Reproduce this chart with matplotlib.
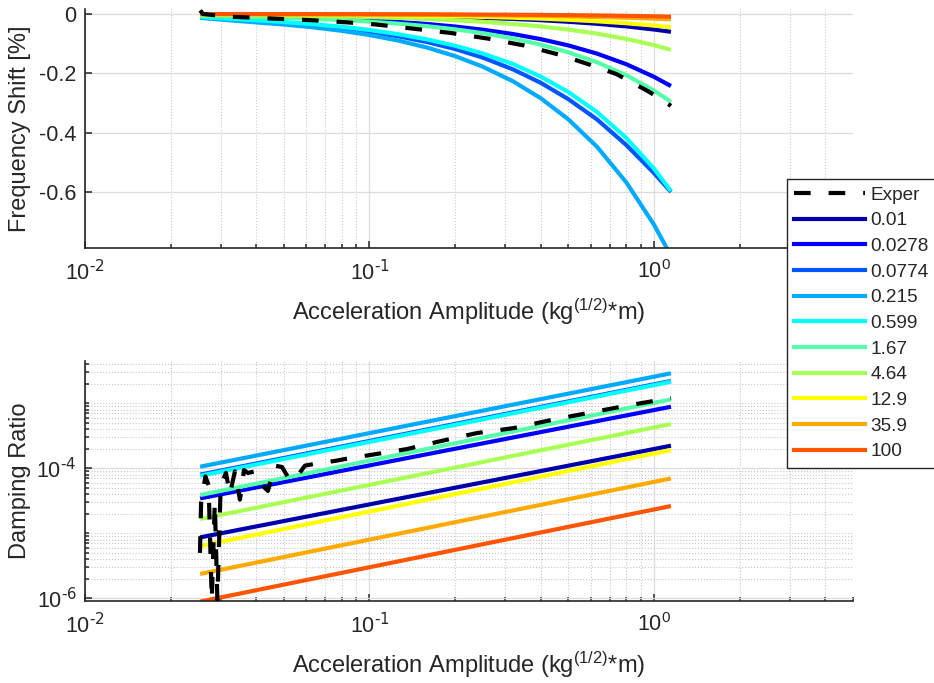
import numpy as np
import matplotlib
matplotlib.use('Agg')
import matplotlib.pyplot as plt
from matplotlib.ticker import FixedLocator, FixedFormatter, NullFormatter
from matplotlib.lines import Line2D

plt.rcParams['font.family'] = ['Liberation Sans', 'DejaVu Sans']
plt.rcParams['axes.unicode_minus'] = False
plt.rcParams['mathtext.default'] = 'regular'

############ data ############

labels = ['0.01', '0.0278', '0.0774', '0.215', '0.599',
          '1.67', '4.64', '12.9', '35.9', '100']

# jet(10)
colors = [(0, 0, 0.6667), (0, 0, 1), (0, 0.3333, 1), (0, 0.6667, 1), (0, 1, 1),
          (0.3333, 1, 0.6667), (0.6667, 1, 0.3333), (1, 1, 0), (1, 0.6667, 0),
          (1, 0.3333, 0)]

# frequency shift [%] of each model vs amplitude
amp_model = [0.0254, 0.032, 0.04, 0.05, 0.063, 0.08, 0.1, 0.126, 0.16, 0.2,
             0.25, 0.32, 0.4, 0.5, 0.63, 0.8, 1.0, 1.148]
shift_model = [
    [-0.0013, -0.0017, -0.0021, -0.0026, -0.0033, -0.0042, -0.0052, -0.0066, -0.0084,
     -0.0105, -0.0131, -0.0167, -0.0209, -0.0262, -0.033, -0.0418, -0.0523, -0.060],
    [-0.0045, -0.0064, -0.0083, -0.0105, -0.0133, -0.0169, -0.0212, -0.0267, -0.0339,
     -0.0423, -0.0529, -0.0677, -0.0847, -0.1059, -0.1334, -0.1694, -0.2117, -0.243],
    [-0.012, -0.018, -0.024, -0.030, -0.038, -0.048, -0.060, -0.075, -0.095,
     -0.118, -0.147, -0.187, -0.232, -0.287, -0.355, -0.442, -0.536, -0.600],
    [-0.013, -0.021, -0.0284, -0.0355, -0.0447, -0.0568, -0.071, -0.0895, -0.1136,
     -0.142, -0.1775, -0.2272, -0.284, -0.355, -0.447, -0.568, -0.71, -0.815],
    [-0.010, -0.016, -0.021, -0.027, -0.034, -0.043, -0.054, -0.068, -0.086,
     -0.107, -0.133, -0.169, -0.211, -0.263, -0.330, -0.418, -0.521, -0.597],
    [-0.0058, -0.0080, -0.0102, -0.0129, -0.0163, -0.0206, -0.0258, -0.0325, -0.0413,
     -0.0516, -0.0645, -0.0826, -0.1032, -0.129, -0.1625, -0.2064, -0.258, -0.296],
    [-0.0027, -0.0034, -0.0042, -0.0053, -0.0066, -0.0084, -0.0105, -0.0132, -0.0168,
     -0.021, -0.0263, -0.0336, -0.042, -0.0525, -0.0662, -0.084, -0.105, -0.121],
    [-0.001, -0.0012, -0.0016, -0.002, -0.0025, -0.0031, -0.0039, -0.0049, -0.0062,
     -0.0078, -0.0098, -0.0125, -0.0156, -0.0195, -0.0246, -0.0312, -0.039, -0.045],
    [-0.0004, -0.0005, -0.0006, -0.0008, -0.001, -0.0013, -0.0016, -0.002, -0.0025,
     -0.0031, -0.0039, -0.005, -0.0063, -0.0079, -0.0099, -0.0126, -0.0157, -0.018],
    [-0.0002, -0.0002, -0.0003, -0.0004, -0.0005, -0.0006, -0.0008, -0.001, -0.0012,
     -0.0016, -0.002, -0.0025, -0.0031, -0.0039, -0.0049, -0.0062, -0.0078, -0.009],
]

# measured frequency shift
amp_exp_top = [0.0254, 0.026, 0.032, 0.04, 0.05, 0.063, 0.08, 0.1045, 0.141,
               0.193, 0.261, 0.349, 0.468, 0.631, 0.74, 0.830, 0.96, 1.084, 1.148]
shift_exp = [0.012, 0.0, -0.009, -0.013, -0.017, -0.021, -0.027, -0.035, -0.049,
             -0.064, -0.083, -0.106, -0.138, -0.179, -0.203, -0.229, -0.262,
             -0.293, -0.310]

# damping ratio of each model at both ends of the amplitude range
amp_ends = [0.0254, 1.148]
damp_model = [
    [8.67e-6, 2.23e-4],
    [3.45e-5, 8.87e-4],
    [8.0e-5, 2.21e-3],
    [1.06e-4, 2.90e-3],
    [7.7e-5, 2.15e-3],
    [3.88e-5, 1.15e-3],
    [1.66e-5, 4.81e-4],
    [6.38e-6, 1.91e-4],
    [2.37e-6, 7.0e-5],
    [8.9e-7, 2.63e-5],
]

# measured damping ratio
amp_exp_bot = [0.02536, 0.0256, 0.0265, 0.0272, 0.0279, 0.0286, 0.0292, 0.0300,
               0.0313, 0.0323, 0.03366, 0.03505, 0.03622, 0.03741, 0.03958,
               0.04188, 0.04396, 0.04653, 0.04925, 0.05256, 0.05562, 0.05934,
               0.06592, 0.07563, 0.08268, 0.1004, 0.1354, 0.1784, 0.2387,
               0.3221, 0.4345, 0.5861, 0.7909, 1.148]
damp_exp = [5.0e-6, 3.0e-5, 7.5e-5, 5.5e-5, 9.4e-7, 3.0e-5, 9.4e-7, 5.5e-5,
            8.5e-5, 4.0e-5, 9.0e-5, 3.3e-5, 9.4e-5, 8.5e-5, 9.0e-5,
            5.5e-5, 4.5e-5, 1.1e-4, 1.05e-4, 6.5e-5, 7.5e-5, 1.1e-4,
            1.2e-4, 1.3e-4, 1.4e-4, 1.6e-4, 1.98e-4, 2.63e-4, 3.49e-4,
            4.17e-4, 5.53e-4, 7.1e-4, 9.1e-4, 1.21e-3]

x_ticks = [0.01, 0.1, 1]
x_ticklabels = ['10$^{\\text{-2}}$', '10$^{\\text{-1}}$', '10$^{0}$']

############ styling ############

txt = '#262626'
lw = 3.0
dash = (4.0, 4.3)
fs_tick = 15.5
fs_lab = 17
xlab = 'Acceleration Amplitude (kg$^{(1/2)}$*m)'


def style_axes(ax):
    for s in ['top', 'right']:
        ax.spines[s].set_visible(False)
    for s in ['left', 'bottom']:
        ax.spines[s].set_color(txt)
        ax.spines[s].set_linewidth(1.2)
    ax.set_xscale('log')
    ax.set_xlim(0.01, 5)
    ax.xaxis.set_major_locator(FixedLocator(x_ticks))
    ax.xaxis.set_major_formatter(FixedFormatter(x_ticklabels))
    minors = [m * d for d in [0.01, 0.1] for m in range(2, 10)] + [2, 3, 4, 5]
    ax.xaxis.set_minor_locator(FixedLocator(minors))
    ax.xaxis.set_minor_formatter(NullFormatter())
    ax.tick_params(which='both', direction='in', colors=txt,
                   labelsize=fs_tick, width=1.1)
    ax.tick_params(which='major', length=5)
    ax.tick_params(which='minor', length=3)
    ax.tick_params(axis='x', pad=9)
    ax.tick_params(axis='y', pad=6)
    ax.grid(True, which='major', color='#dcdcdc', lw=0.9, ls='-')
    ax.grid(True, which='minor', axis='x', color='#c8c8c8', lw=0.8, ls=':')
    ax.set_axisbelow(True)
    ax.set_xlabel(xlab, fontsize=fs_lab, color=txt, labelpad=8)


fig = plt.figure(figsize=(9.34, 6.83), dpi=100)

#### frequency shift ####
ax1 = fig.add_axes([0.091, 0.6369, 0.822, 0.350])
style_axes(ax1)
ax1.set_ylim(-0.789, 0.017)
ax1.yaxis.set_major_locator(FixedLocator([-0.6, -0.4, -0.2, 0]))
ax1.yaxis.set_major_formatter(FixedFormatter(['-0.6', '-0.4', '-0.2', '0']))
for i in range(len(labels)):
    ax1.plot(amp_model, shift_model[i], color=colors[i], lw=lw,
             solid_capstyle='butt')
ax1.plot(amp_exp_top, shift_exp, color='k', lw=lw, dashes=dash, zorder=5)
ax1.set_ylabel('Frequency Shift [%]', fontsize=fs_lab, color=txt, labelpad=6)

#### damping ratio ####
ax2 = fig.add_axes([0.091, 0.1205, 0.822, 0.3509])
style_axes(ax2)
ax2.set_yscale('log')
ax2.set_ylim(9.19e-7, 4.48e-3)
ax2.yaxis.set_major_locator(FixedLocator([1e-6, 1e-4]))
ax2.yaxis.set_major_formatter(FixedFormatter(['10$^{\\text{-6}}$',
                                              '10$^{\\text{-4}}$']))
yminor = [m * d for d in [1e-6, 1e-5, 1e-4, 1e-3] for m in range(1, 10)]
yminor = [v for v in yminor if v not in (1e-6, 1e-4)]
ax2.yaxis.set_minor_locator(FixedLocator(yminor))
ax2.yaxis.set_minor_formatter(NullFormatter())
ax2.grid(True, which='minor', axis='y', color='#c8c8c8', lw=0.8, ls=':')
for i in range(len(labels)):
    ax2.plot(amp_ends, damp_model[i], color=colors[i], lw=lw,
             solid_capstyle='butt')
ax2.plot(amp_exp_bot, damp_exp, color='k', lw=lw, dashes=dash, zorder=5)
ax2.set_ylabel('Damping Ratio', fontsize=fs_lab, color=txt, labelpad=4)

#### legend ####
handles = [Line2D([], [], color='k', lw=lw, dashes=dash)]
handles += [Line2D([], [], color=c, lw=lw) for c in colors]
leg = fig.legend(handles, ['Exper'] + labels, loc='upper left',
                 bbox_to_anchor=(787 / 934, 1 - 179 / 683),
                 fontsize=13.7, handlelength=3.7, handletextpad=0.3,
                 labelspacing=0.44, borderpad=0.38, borderaxespad=0,
                 fancybox=False, framealpha=1, edgecolor=txt)
leg.get_frame().set_linewidth(1.0)
for t in leg.get_texts():
    t.set_color(txt)

plt.savefig('out.png', dpi=100)
